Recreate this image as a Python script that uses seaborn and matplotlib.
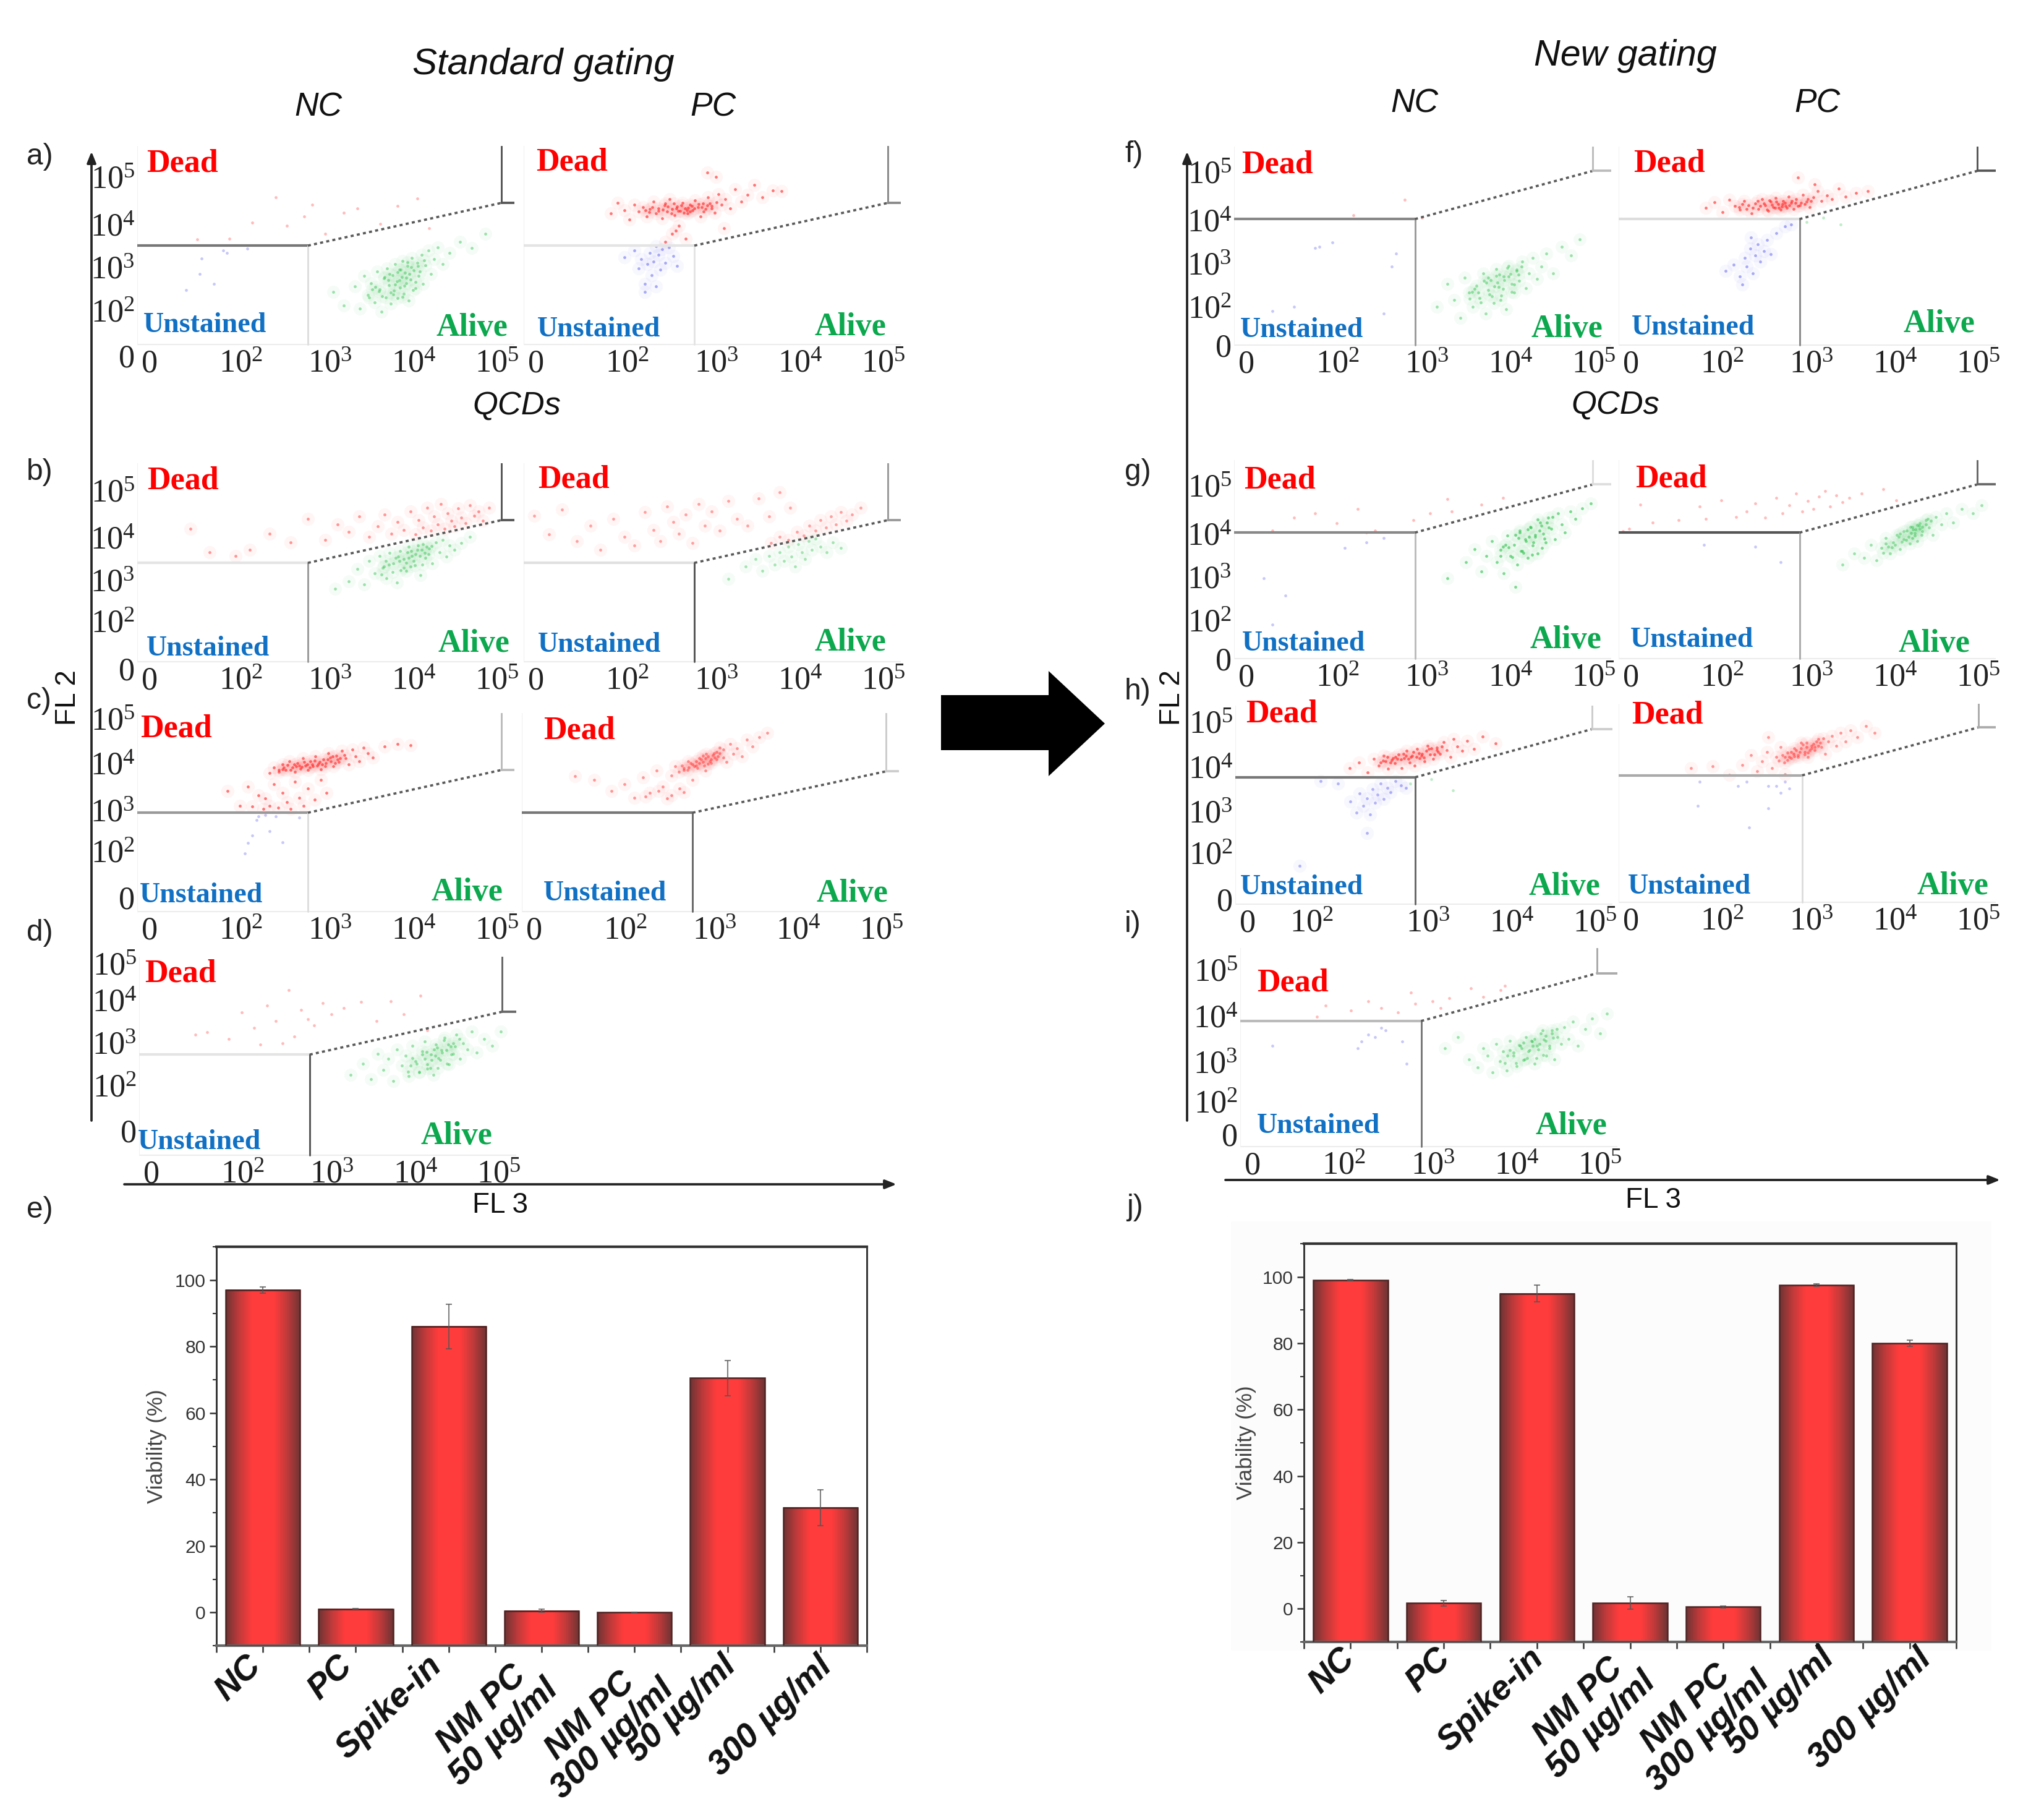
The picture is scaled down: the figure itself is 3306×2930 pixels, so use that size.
import numpy as np
import matplotlib
matplotlib.use('Agg')
import matplotlib.pyplot as plt
from matplotlib.colors import LinearSegmentedColormap
from matplotlib.patches import Polygon, Rectangle
from matplotlib.ticker import MultipleLocator, FixedLocator
from matplotlib.transforms import ScaledTranslation
import seaborn as sns

# -------------------------------
# Bar chart data
# -------------------------------
bar_labels = ['NC', 'PC', 'Spike-in', 'NM PC\n50 µg/ml', 'NM PC\n300 µg/ml', '50 µg/ml', '300 µg/ml']
std_viability = [97, 1, 86, 0.5, 0, 70.5, 31.5]
std_error = [1, 0.1, 6.7, 0.5, 0.1, 5.3, 5.4]
new_viability = [99, 1.7, 95, 1.7, 0.6, 97.5, 80]
new_error = [0.2, 0.8, 2.5, 1.9, 0.3, 0.4, 1]
viability_ticks = [0, 20, 40, 60, 80, 100]

# -------------------------------
# Cytometry points, FL3 (x) and FL2 (y) in log10 units
# -------------------------------
a_nc_green_x = [3.42,3.55,3.61,3.66,3.70,3.74,3.78,3.81,3.84,3.86,3.89,3.91,3.93,3.95,3.97,3.99,4.01,4.02,4.04,4.05,4.07,4.08,4.10,4.11,4.12,4.14,4.15,4.17,4.18,4.20,4.22,4.24,4.26,4.28,4.30,4.33,4.35,4.38,4.41,4.44,4.48,4.52,4.58,4.66,4.78,4.92,5.08,3.30,
                3.83,4.21,3.97,4.05,3.72,4.31,4.13,3.9,4.26,4.0,4.17,3.79,4.36,3.94,4.09,4.23,3.87,4.02,4.29,4.15,3.96,4.11,3.75,4.19,4.07]
a_nc_green_y = [2.12,2.55,2.05,2.78,2.35,2.62,2.18,2.88,2.48,1.98,2.72,2.30,2.95,2.58,2.15,2.80,2.45,3.05,2.65,2.28,2.92,2.52,2.75,3.12,2.38,2.85,2.62,3.00,2.22,2.70,3.18,2.90,2.50,3.08,2.78,3.25,2.60,3.02,3.35,2.82,3.15,3.42,3.05,3.30,3.55,3.40,3.72,2.42,
                2.44,2.97,2.41,2.87,2.29,2.88,2.56,2.76,2.64,2.36,3.09,2.53,3.13,2.69,2.92,2.46,2.33,2.59,3.01,2.74,2.83,2.31,2.47,2.83,2.68]
a_nc_red_x = [1.70,2.08,2.35,2.62,2.75,2.96,3.05,3.20,3.42,3.58,3.85,4.05,4.28,4.42]
a_nc_red_y = [3.60,3.62,3.98,4.55,3.90,4.12,4.38,3.72,4.20,4.30,3.95,4.35,4.52,3.85]
a_nc_blue_x = [1.57,1.75,2.01,2.05,2.29,1.73,1.9]
a_nc_blue_y = [2.46,3.17,3.35,3.30,3.39,2.82,2.6]

a_pc_red_x = [2.02,2.10,2.18,2.24,2.30,2.35,2.40,2.44,2.48,2.52,2.55,2.58,2.62,2.65,2.68,2.71,2.74,2.77,2.80,2.83,2.86,2.89,2.92,2.95,2.98,3.01,3.04,3.07,3.10,3.13,3.16,3.20,3.24,3.28,3.32,3.36,3.42,3.48,3.55,3.62,3.70,3.80,3.92,4.02,2.66,2.74,2.82,2.90,2.78,3.35,3.15,3.25,
              2.63,2.97,2.51,3.11,2.76,2.88,3.2,2.43,2.69,3.05,2.81,2.93,3.26,2.58,2.73,3.0,3.15,2.85,2.47,3.09,2.79,2.91,2.66,3.18,2.95]
a_pc_red_y = [4.18,4.42,4.25,4.05,4.38,4.22,4.32,4.12,4.28,4.45,4.18,4.30,4.08,4.36,4.22,4.50,4.28,4.14,4.34,4.24,4.42,4.30,4.18,4.38,4.26,4.48,4.32,4.12,4.40,4.28,4.55,4.35,4.20,4.62,4.38,4.50,4.30,4.72,4.45,4.60,4.82,4.55,4.70,4.68,3.55,3.72,3.90,3.62,3.80,3.85,5.10,5.0,
              4.27,4.35,4.33,4.23,4.4,4.2,4.3,4.25,4.34,4.39,4.24,4.31,4.44,4.24,4.19,4.29,4.36,4.37,4.21,4.33,4.3,4.26,4.41,4.41,4.22]
a_pc_blue_x = [2.18,2.30,2.35,2.38,2.42,2.45,2.48,2.50,2.52,2.55,2.58,2.60,2.62,2.66,2.70,2.75,2.80,2.42,2.55]
a_pc_blue_y = [3.2,3.35,2.95,3.15,2.60,3.05,3.30,2.80,3.10,2.55,3.25,2.92,3.38,3.08,3.42,3.22,3.00,2.42,3.45]

b_nc_red_x = [1.62,1.85,2.15,2.32,2.55,2.80,3.0,3.2,3.35,3.48,3.6,3.72,3.82,3.9,3.98,4.05,4.12,4.2,4.26,4.3,4.35,4.4,4.44,4.48,4.52,4.56,4.6,4.64,4.68,4.72,4.76,4.8,4.85,4.9,4.95,5.0,5.05,5.12]
b_nc_red_y = [4.22,3.7,3.62,3.75,4.12,3.92,4.45,3.98,4.32,4.15,4.5,4.05,4.28,4.55,4.12,4.38,4.2,4.62,4.1,4.42,4.25,4.7,4.18,4.5,4.32,4.78,4.22,4.58,4.4,4.28,4.68,4.48,4.35,4.75,4.52,4.62,4.4,4.7]
b_nc_green_x = [3.32,3.48,3.58,3.66,3.72,3.78,3.84,3.88,3.92,3.96,4.0,4.04,4.08,4.12,4.15,4.18,4.22,4.25,4.28,4.32,4.35,4.38,4.42,4.46,4.5,4.54,4.58,4.62,4.66,4.72,4.8,4.9,
                3.95,4.33,4.09,4.17,3.86,4.41,4.24,4.03,4.37,4.12,4.29,3.91,4.45,4.06,4.21,4.34,3.99,4.15,4.39,4.26,4.07,4.2,3.89,4.31,4.18]
b_nc_green_y = [2.88,3.05,3.32,2.98,3.5,3.22,3.62,3.35,3.12,3.68,3.45,3.02,3.72,3.55,3.28,3.82,3.62,3.4,3.75,3.18,3.88,3.58,3.78,3.45,3.92,3.7,3.98,3.6,3.85,3.75,3.9,4.05,
                3.42,3.75,3.3,3.7,3.2,3.65,3.5,3.58,3.68,3.35,3.85,3.5,3.84,3.6,3.72,3.42,3.25,3.46,3.82,3.66,3.5,3.38,3.38,3.62,3.58]

b_pc_red_x = [1.12,1.3,1.45,1.62,1.78,1.9,2.05,2.18,2.3,2.42,2.52,2.6,2.68,2.75,2.82,2.9,2.98,3.05,3.12,3.2,3.3,3.4,3.5,3.62,3.75,3.88,4.0,4.12,3.9,4.0,4.1,4.2,4.28,4.35,4.42,4.48,4.54,4.6,4.66,4.72,4.78,4.85,4.95]
b_pc_red_y = [4.52,4.1,4.65,3.95,4.3,3.75,4.45,4.05,3.85,4.6,4.2,3.95,4.72,4.38,4.12,4.55,3.9,4.78,4.3,4.62,4.18,4.85,4.45,4.3,4.9,4.5,5.05,4.7,3.9,4.05,3.98,4.15,4.08,4.3,4.18,4.42,4.25,4.5,4.32,4.6,4.4,4.55,4.7]
b_pc_green_x = [3.4,3.6,3.72,3.8,3.88,3.94,4.0,4.05,4.1,4.14,4.18,4.22,4.26,4.3,4.34,4.38,4.42,4.48,4.55,4.62,4.72]
b_pc_green_y = [3.1,3.38,3.55,3.28,3.62,3.42,3.7,3.5,3.82,3.6,3.38,3.88,3.7,3.55,3.95,3.75,4.0,3.82,3.7,3.92,3.8]

c_nc_red_x = [2.55,2.6,2.66,2.7,2.74,2.78,2.82,2.85,2.88,2.91,2.94,2.97,3.0,3.03,3.06,3.09,3.12,3.15,3.18,3.21,3.24,3.27,3.3,3.33,3.36,3.4,3.44,3.48,3.52,3.56,3.6,3.65,3.7,3.76,3.9,4.05,4.2,2.06,2.2,2.3,2.35,2.42,2.48,2.5,2.55,2.6,2.65,2.7,2.75,2.8,2.85,2.9,2.95,3.0,3.08,3.15,3.22,
              2.72,3.14,2.9,3.38,2.8,3.02,3.26,2.96,3.2,2.66,3.08,3.32,2.86,3.11,3.43,2.76,3.17,2.99,3.23,2.93,3.05,2.84,3.29,3.35,2.7]
c_nc_red_y = [4.35,4.48,4.38,4.55,4.42,4.62,4.48,4.38,4.58,4.45,4.68,4.52,4.42,4.62,4.5,4.72,4.56,4.44,4.66,4.58,4.8,4.62,4.5,4.74,4.6,4.85,4.68,4.55,4.88,4.72,4.62,4.92,4.8,4.7,4.95,5.0,4.98,3.95,3.62,4.05,3.6,3.85,3.55,3.78,3.62,4.1,3.58,3.9,3.7,3.55,4.15,3.8,3.62,4.0,3.75,4.2,3.9,
              4.47,4.6,4.52,4.68,4.42,4.47,4.7,4.6,4.51,4.42,4.63,4.58,4.51,4.52,4.76,4.53,4.55,4.55,4.66,4.49,4.55,4.55,4.72,4.65,4.44]
c_nc_blue_x = [2.26,2.35,2.42,2.5,2.55,2.62,2.7,2.3,2.4,2.9]
c_nc_blue_y = [2.55,2.95,3.38,3.4,3.05,3.38,2.8,2.78,3.3,3.35]

c_pc_red_x = [1.62,1.85,2.05,2.2,2.32,2.42,2.5,2.58,2.65,2.7,2.75,2.8,2.85,2.9,2.95,3.0,3.04,3.08,3.12,3.15,3.18,3.22,3.25,3.28,3.32,3.36,3.4,3.44,3.48,3.52,3.58,3.64,3.7,3.78,3.88,2.45,2.6,2.75,2.9,
              2.9,3.15,3.0,3.24,2.84,3.08,3.28,2.96,3.2,2.88,3.12,3.32,3.04,3.18,3.36,2.98,3.22,3.06,3.26,3.14,2.94,3.1,3.3,3.02,3.16]
c_pc_red_y = [4.28,4.2,3.95,4.1,3.8,4.25,3.9,4.4,4.05,3.78,4.3,4.5,4.0,4.42,4.62,4.2,4.52,4.68,4.6,4.4,4.72,4.58,4.8,4.65,4.92,4.7,4.6,5.0,4.78,4.9,4.72,5.1,4.95,5.15,5.25,3.82,3.95,3.85,3.92,
              4.46,4.68,4.55,4.76,4.38,4.58,4.82,4.48,4.62,4.52,4.74,4.8,4.62,4.56,4.88,4.58,4.66,4.46,4.7,4.52,4.42,4.66,4.72,4.5,4.78]

d_nc_green_x = [3.48,3.62,3.72,3.8,3.86,3.92,3.98,4.02,4.08,4.12,4.16,4.2,4.24,4.28,4.32,4.35,4.38,4.42,4.45,4.48,4.51,4.54,4.58,4.61,4.65,4.68,4.72,4.76,4.8,4.85,4.9,4.96,5.04,5.14,5.24,
                4.25,4.62,4.38,4.46,4.15,4.7,4.53,4.32,4.66,4.41,4.57,4.2,4.75,4.35,4.49,4.63,4.28,4.43,4.68,4.55,4.37,4.5,4.18,4.6,4.47]
d_nc_green_y = [3.05,3.3,2.95,3.52,3.15,3.4,2.9,3.62,3.25,3.48,3.02,3.7,3.35,3.12,3.58,3.8,3.28,3.5,3.05,3.72,3.42,3.6,3.88,3.3,3.68,3.52,3.95,3.4,3.75,3.62,4.02,3.55,3.85,3.7,4.02,
                3.3,3.72,3.18,3.62,3.12,3.68,3.38,3.5,3.5,3.2,3.82,3.42,3.85,3.4,3.66,3.28,3.1,3.38,3.76,3.55,3.56,3.2,3.26,3.6,3.48]
d_nc_red_x = [1.66,1.8,2.05,2.2,2.35,2.42,2.5,2.6,2.68,2.75,2.82,2.9,2.98,3.05,3.15,3.25,3.4,3.6,3.78,3.95,4.1,4.3,4.38]
d_nc_red_y = [3.95,4.0,3.85,4.45,4.1,3.72,4.6,4.25,3.75,4.95,3.9,4.5,4.3,4.15,4.65,4.4,4.55,4.68,4.25,4.7,4.4,4.82,4.05]

f_nc_green_x = [3.38,3.5,3.58,3.65,3.7,3.75,3.8,3.84,3.88,3.92,3.95,3.98,4.01,4.04,4.07,4.1,4.13,4.16,4.19,4.22,4.25,4.28,4.31,4.34,4.38,4.42,4.46,4.5,4.55,4.6,4.66,4.74,4.84,4.95,5.05,
                3.86,4.24,3.99,4.07,3.76,4.33,4.15,3.93,4.28,4.02,4.2,3.82,4.37,3.96,4.11,4.25,3.89,4.05,4.31,4.17,3.98,4.12,3.79,4.22,4.09]
f_nc_green_y = [2.1,2.62,2.25,1.85,2.75,2.42,2.1,2.58,2.3,2.85,1.95,2.48,2.7,2.18,2.95,2.55,2.35,2.78,2.05,3.02,2.62,2.42,2.9,2.68,3.12,2.52,2.85,3.2,2.72,3.0,3.3,2.85,3.45,3.25,3.62,
                2.42,2.84,2.38,2.8,2.28,2.82,2.5,2.68,2.6,2.34,2.98,2.5,3.0,2.64,2.82,2.44,2.2,2.56,2.94,2.7,2.76,2.26,2.44,2.78,2.64]
f_nc_red_x = [2.4,3.0,3.2]
f_nc_red_y = [4.15,4.5,4.1]
f_nc_blue_x = [1.95,2.0,2.15,2.85,2.9,1.45,1.7,2.75]
f_nc_blue_y = [3.42,3.45,3.55,3.0,3.3,2.0,2.1,1.95]

f_pc_red_x = [2.02,2.12,2.22,2.3,2.36,2.42,2.47,2.52,2.56,2.6,2.64,2.68,2.72,2.75,2.78,2.81,2.84,2.87,2.9,2.93,2.96,2.99,3.02,3.05,3.08,3.12,3.16,3.2,3.24,3.28,3.33,3.38,3.44,3.5,3.58,3.66,3.78,3.92,3.1,3.3,
              2.66,2.95,2.5,3.1,2.77,2.88,3.18,2.41,2.7,3.03,2.83,2.92,3.25,2.57,2.74,3.0,3.14,2.85,2.45,3.07,2.8,2.91,2.63,3.22,2.97]
f_pc_red_y = [4.32,4.45,4.22,4.5,4.36,4.28,4.48,4.38,4.2,4.42,4.3,4.52,4.38,4.25,4.46,4.34,4.55,4.4,4.28,4.48,4.36,4.58,4.44,4.3,4.52,4.38,4.62,4.46,4.34,4.56,4.7,4.48,4.6,4.52,4.75,4.58,4.65,4.7,5.0,4.85,
              4.36,4.44,4.3,4.36,4.49,4.32,4.4,4.34,4.42,4.48,4.33,4.4,4.47,4.33,4.28,4.38,4.44,4.46,4.4,4.43,4.39,4.35,4.47,4.52,4.32]
f_pc_blue_x = [2.25,2.35,2.42,2.48,2.5,2.54,2.57,2.6,2.63,2.66,2.7,2.74,2.78,2.85,2.95,3.02,2.45,2.55]
f_pc_blue_y = [2.9,3.05,2.78,3.2,3.0,3.4,2.85,3.25,3.5,3.12,3.35,3.6,3.28,3.75,3.9,3.95,2.6,3.65]
f_pc_green_x = [3.2,3.4,3.6]
f_pc_green_y = [4.0,4.1,3.95]

g_nc_green_x = [3.72,3.82,3.9,3.96,4.02,4.08,4.12,4.16,4.2,4.24,4.28,4.32,4.35,4.38,4.41,4.44,4.47,4.5,4.53,4.56,4.59,4.62,4.65,4.68,4.72,4.76,4.8,4.84,4.88,4.94,5.0,5.08,5.18,3.5,4.3,
                4.22,4.6,4.36,4.44,4.12,4.69,4.51,4.3,4.64,4.39,4.56,4.18,4.73,4.33,4.48,4.61,4.26,4.42,4.67,4.53,4.35,4.49,4.15,4.58,4.46]
g_nc_green_y = [3.4,3.7,3.2,3.55,3.88,3.4,3.68,3.15,4.0,3.55,3.8,3.35,4.12,3.65,3.92,3.5,4.2,3.78,3.98,3.6,4.3,4.05,3.85,4.4,4.15,3.92,4.5,4.25,4.08,4.55,4.38,4.62,4.72,3.05,2.85,
                3.74,4.22,3.66,4.14,3.55,4.18,3.85,4.02,3.94,3.62,4.36,3.8,4.42,3.95,4.18,3.72,3.52,3.88,4.3,4.02,4.08,3.58,3.75,4.12,3.98]
g_nc_red_x = [1.45,1.7,1.95,2.2,2.55,2.65,3.1,3.3,3.5,3.55,3.9,4.15,2.45]
g_nc_red_y = [4.12,4.4,4.5,4.28,4.08,4.12,4.35,4.5,4.82,4.55,4.7,4.85,4.6]
g_nc_blue_x = [1.35,2.3,2.55,2.75,1.6,1.45]
g_nc_blue_y = [3.05,3.72,3.85,3.95,2.65,2.0]

g_pc_green_x = [3.62,3.76,3.88,3.96,4.02,4.08,4.13,4.18,4.22,4.26,4.3,4.34,4.38,4.41,4.44,4.47,4.5,4.53,4.56,4.6,4.64,4.68,4.72,4.78,4.84,4.92,5.02,5.15,5.25,
                4.2,4.52,4.32,4.42,4.1,4.6,4.47,4.28,4.56,4.37,4.5,4.16,4.66,4.3,4.45,4.55,4.24,4.4,4.62,4.48,4.34,4.44,4.13,4.53,4.43]
g_pc_green_y = [3.35,3.6,3.5,3.8,3.45,3.72,3.95,3.6,3.85,4.02,3.7,3.92,4.12,3.82,4.2,4.0,3.88,4.28,4.1,4.35,4.18,4.02,4.42,4.25,4.5,4.3,4.6,4.5,4.68,
                3.74,4.22,3.86,4.2,3.62,4.26,4.06,3.98,4.2,3.9,4.24,3.76,4.34,4.05,4.14,4.02,3.8,3.98,4.38,4.14,4.1,3.95,3.82,4.16,4.06]
g_pc_red_x = [1.05,1.25,1.4,1.7,1.95,2.02,2.2,2.38,2.5,2.6,2.72,2.85,2.92,3.0,3.08,3.15,3.22,3.28,3.35,3.42,3.48,3.55,3.62,3.7,3.85,4.1,4.25,1.12]
g_pc_red_y = [4.1,4.7,4.3,4.35,4.65,4.38,4.8,4.42,4.55,4.72,4.4,4.85,4.5,4.68,4.95,4.55,4.78,4.6,4.88,5.0,4.65,4.9,4.75,4.85,4.95,5.05,4.8,4.15]
g_pc_blue_x = [2.0,2.6,2.9]
g_pc_blue_y = [3.8,3.75,3.4]

h_nc_red_x = [2.34,2.45,2.55,2.62,2.68,2.74,2.79,2.83,2.87,2.91,2.95,2.98,3.01,3.04,3.07,3.1,3.13,3.16,3.19,3.22,3.25,3.28,3.32,3.36,3.4,3.44,3.48,3.52,3.56,3.6,3.66,3.72,3.8,3.9,4.05,
              2.76,3.15,2.9,3.36,2.82,3.03,3.27,2.97,3.21,2.7,3.09,3.33,2.88,3.12,3.42,2.78,3.18,3.0,3.24,2.94,3.06,2.85,3.3,3.38,2.73]
h_nc_red_y = [4.3,4.42,4.2,4.5,4.35,4.58,4.28,4.48,4.4,4.6,4.3,4.52,4.68,4.42,4.58,4.35,4.72,4.52,4.62,4.45,4.8,4.6,4.5,4.75,4.62,4.88,4.7,4.55,4.95,4.78,4.68,4.9,4.72,5.0,4.85,
              4.45,4.63,4.5,4.7,4.42,4.5,4.72,4.62,4.53,4.42,4.66,4.6,4.55,4.54,4.78,4.55,4.58,4.58,4.68,4.49,4.55,4.52,4.74,4.66,4.46]
h_nc_blue_x = [2.0,2.2,2.35,2.42,2.46,2.5,2.54,2.58,2.61,2.64,2.67,2.7,2.74,2.78,2.82,2.88,2.94,3.0,2.54,1.75]
h_nc_blue_y = [4.0,3.95,3.55,3.3,3.72,3.45,3.62,3.25,3.82,3.52,3.7,3.95,3.6,3.85,3.75,4.0,3.9,3.85,2.84,2.1]
h_nc_green_x = [3.05,3.3,3.55]
h_nc_green_y = [3.95,4.05,3.8]

h_pc_red_x = [1.85,2.1,2.3,2.45,2.55,2.62,2.68,2.74,2.8,2.85,2.9,2.94,2.98,3.02,3.06,3.1,3.14,3.18,3.22,3.26,3.3,3.34,3.38,3.42,3.46,3.5,3.55,3.6,3.66,3.72,3.8,3.9,4.0,2.75,2.95,
              2.95,3.2,3.05,3.28,2.88,3.12,3.32,3.0,3.24,2.92,3.16,3.36,3.08,3.22,3.4,3.02,3.26,3.1,3.3,3.18,2.98,3.14,3.34,3.06,3.2]
h_pc_red_y = [4.25,4.3,4.1,4.32,4.55,4.18,4.4,4.62,4.25,4.5,4.72,4.38,4.6,4.48,4.7,4.55,4.82,4.62,4.5,4.75,4.65,4.9,4.72,4.58,4.85,4.98,4.75,5.05,4.85,5.1,4.95,5.2,5.05,4.95,4.12,
              4.5,4.72,4.58,4.8,4.42,4.62,4.85,4.5,4.66,4.55,4.78,4.82,4.65,4.6,4.92,4.62,4.7,4.5,4.72,4.56,4.44,4.7,4.75,4.52,4.82]
h_pc_blue_x = [1.93,1.95,2.4,2.5,2.75,2.9,2.95,3.0,2.53,2.75,2.85]
h_pc_blue_y = [3.4,3.95,3.85,3.95,3.85,3.7,3.95,3.8,2.92,3.35,3.85]

i_nc_green_x = [3.4,3.55,3.68,3.78,3.85,3.9,3.96,4.0,4.04,4.08,4.12,4.16,4.2,4.24,4.28,4.32,4.35,4.38,4.42,4.45,4.48,4.52,4.55,4.58,4.62,4.65,4.68,4.72,4.76,4.8,4.85,4.9,4.96,5.04,5.12,5.22,5.3,
                4.2,4.58,4.33,4.41,4.1,4.67,4.49,4.27,4.62,4.36,4.54,4.16,4.71,4.3,4.45,4.59,4.23,4.39,4.65,4.51,4.32,4.47,4.13,4.56,4.43]
i_nc_green_y = [3.45,3.7,3.2,3.02,3.45,3.28,2.9,3.55,3.15,3.38,2.95,3.62,3.28,3.05,3.5,3.18,3.7,3.38,3.6,3.1,3.5,3.78,3.3,3.62,3.45,3.85,3.2,3.7,3.55,3.92,3.65,4.05,3.5,3.88,4.12,3.78,4.22,
                3.35,3.72,3.2,3.62,3.12,3.68,3.42,3.52,3.5,3.22,3.85,3.4,3.88,3.45,3.66,3.28,3.12,3.4,3.78,3.55,3.58,3.22,3.28,3.64,3.5]
i_nc_red_x = [1.9,2.0,2.3,2.5,2.65,2.85,3.0,3.05,3.25,3.35,3.45,3.7,3.85,4.05,4.1]
i_nc_red_y = [4.15,4.4,4.3,4.5,4.35,4.25,4.7,4.45,4.5,4.35,4.58,4.8,4.6,4.75,4.85]
i_nc_blue_x = [1.38,2.38,2.42,2.58,2.65,2.7,2.9,2.95,2.5]
i_nc_blue_y = [3.5,3.45,3.6,3.7,3.9,3.85,3.6,3.1,3.75]

# tick places for the log axes
x_tick_labels = ['0', r'$\mathregular{10^{2}}$', r'$\mathregular{10^{3}}$', r'$\mathregular{10^{4}}$', r'$\mathregular{10^{5}}$']
y_tick_labels = [r'$\mathregular{10^{5}}$', r'$\mathregular{10^{4}}$', r'$\mathregular{10^{3}}$', r'$\mathregular{10^{2}}$', '0']
x_ticks = [1.05, 1.96, 3.0, 3.98, 4.96]
x_ticks_h = [1.05, 1.64, 3.0, 3.98, 4.96]
y_ticks_a = [5.0, 3.93, 2.98, 2.0, 0.99]
y_ticks_b = [5.09, 4.03, 3.07, 2.16, 1.09]
y_ticks_c = [5.57, 4.57, 3.52, 2.6, 1.56]
y_ticks_d = [5.55, 4.73, 3.77, 2.81, 1.8]
y_ticks_f = [5.13, 4.05, 3.07, 2.1, 1.24]
y_ticks_h = [5.34, 4.32, 3.32, 2.39, 1.35]
y_ticks_i = [5.21, 4.17, 3.14, 2.25, 1.52]

# -------------------------------
# Figure setup
# -------------------------------
sns.set_theme(style='white')
plt.rcParams['font.family'] = ['Liberation Sans', 'DejaVu Sans']
plt.rcParams['mathtext.fontset'] = 'custom'
plt.rcParams['mathtext.rm'] = 'Liberation Serif'

W, H = 3306, 2930
fig = plt.figure(figsize=(W / 300, H / 300), dpi=300, facecolor='white')

RED, GREEN, BLUE = '#ff2020', '#2cc24a', '#4848ee'
SERIF = 'Liberation Serif'
px_per_x, px_per_y = 138, 72
x_lo, x_hi, y_lo, y_hi, y_base = 1.0, 5.42, 0.9, 5.7, 1.24


def flow_panel(left, bottom, clouds, gate, dash_end, y_ticks, gate_cols, xt=x_ticks):
    # axes in px, stretched under the box so the low "0" tick label still fits
    w = (x_hi - x_lo) * px_per_x
    h = (y_hi - y_lo) * px_per_y
    ax_bottom = bottom + (y_base - y_lo) * px_per_y
    ax = fig.add_axes([left / W, 1 - ax_bottom / H, w / W, h / H])
    ax.patch.set_visible(False)

    for cx, cy, col, alpha in clouds:
        # the dots in the reference merge into a haze, so each one gets a faint wide halo first
        if alpha >= SOFT:
            sns.scatterplot(x=cx, y=cy, ax=ax, color=col, s=26, marker='o', linewidth=0, alpha=0.045, legend=False)
        sns.scatterplot(x=cx, y=cy, ax=ax, color=col, s=1.3, marker='o', linewidth=0, alpha=alpha, legend=False)

    hc, vc, lc = gate_cols
    ax.plot([x_lo, x_hi], [y_base, y_base], color='#ececec', lw=0.5)
    ax.plot([x_lo, x_lo], [y_base, y_hi], color='#f0f0f0', lw=0.5)
    ax.plot([x_lo, gate[0]], [gate[1], gate[1]], color=hc, lw=1.0, solid_capstyle='butt')
    ax.plot([gate[0], gate[0]], [y_base, gate[1]], color=vc, lw=0.7)
    ax.plot([gate[0], dash_end[0]], [gate[1], dash_end[1]], color='#5a5a5a', lw=0.9, ls=(0, (1.3, 1.4)))
    ax.plot([dash_end[0], dash_end[0]], [dash_end[1], y_hi], color=lc, lw=0.7)
    ax.plot([dash_end[0], x_hi], [dash_end[1], dash_end[1]], color=lc, lw=0.9)

    ax.set_xlim(x_lo, x_hi)
    ax.set_ylim(y_lo, y_hi)
    ax.set_xlabel('')
    ax.set_ylabel('')
    sns.despine(ax=ax, left=True, bottom=True)
    ax.set_xticks(xt)
    ax.set_xticklabels(x_tick_labels, family=SERIF, fontsize=12.5, color='#222222', ha='left')
    ax.tick_params(axis='x', length=0, pad=-4.0)
    if y_ticks is None:
        ax.set_yticks([])
    else:
        ax.set_yticks(y_ticks)
        ax.set_yticklabels(y_tick_labels, family=SERIF, fontsize=12.5, color='#222222')
        ax.tick_params(axis='y', length=0, pad=1)
    return ax


left_gate = (3.0, 3.46)
left_end = (5.27, 4.42)
right_gate = (3.12, 4.07)
right_end = (5.2, 5.15)
PALE, SOFT, MID, DENSE = 0.3, 0.4, 0.45, 0.6

flow_panel(222, 557, [(a_nc_red_x, a_nc_red_y, RED, PALE), (a_nc_blue_x, a_nc_blue_y, BLUE, PALE), (a_nc_green_x, a_nc_green_y, GREEN, MID)],
           left_gate, left_end, y_ticks_a, ('#777777', '#dddddd', '#555555'))
flow_panel(847, 557, [(a_pc_red_x, a_pc_red_y, RED, DENSE), (a_pc_blue_x, a_pc_blue_y, BLUE, MID)],
           left_gate, left_end, None, ('#e4e4e4', '#e4e4e4', '#888888'))
flow_panel(222, 1070, [(b_nc_red_x, b_nc_red_y, RED, MID), (b_nc_green_x, b_nc_green_y, GREEN, MID)],
           left_gate, left_end, y_ticks_b, ('#e4e4e4', '#999999', '#555555'))
flow_panel(847, 1070, [(b_pc_red_x, b_pc_red_y, RED, SOFT), (b_pc_green_x, b_pc_green_y, GREEN, SOFT)],
           left_gate, left_end, None, ('#e0e0e0', '#555555', '#999999'))
flow_panel(222, 1474, [(c_nc_red_x, c_nc_red_y, RED, DENSE), (c_nc_blue_x, c_nc_blue_y, BLUE, PALE)],
           left_gate, left_end, y_ticks_c, ('#999999', '#dddddd', '#bbbbbb'))
flow_panel(844, 1474, [(c_pc_red_x, c_pc_red_y, RED, MID)],
           left_gate, (5.27, 4.39), None, ('#777777', '#666666', '#cccccc'))
flow_panel(225, 1868, [(d_nc_red_x, d_nc_red_y, RED, PALE), (d_nc_green_x, d_nc_green_y, GREEN, MID)],
           (3.0, 3.5), (5.25, 4.46), y_ticks_d, ('#e4e4e4', '#555555', '#666666'))

flow_panel(1996, 558, [(f_nc_red_x, f_nc_red_y, RED, PALE), (f_nc_blue_x, f_nc_blue_y, BLUE, PALE), (f_nc_green_x, f_nc_green_y, GREEN, MID)],
           right_gate, right_end, y_ticks_f, ('#888888', '#999999', '#bbbbbb'))
flow_panel(2618, 558, [(f_pc_red_x, f_pc_red_y, RED, DENSE), (f_pc_blue_x, f_pc_blue_y, BLUE, MID), (f_pc_green_x, f_pc_green_y, GREEN, PALE)],
           right_gate, right_end, None, ('#dddddd', '#888888', '#555555'))
flow_panel(1996, 1065, [(g_nc_red_x, g_nc_red_y, RED, PALE), (g_nc_blue_x, g_nc_blue_y, BLUE, PALE), (g_nc_green_x, g_nc_green_y, GREEN, DENSE)],
           right_gate, right_end, y_ticks_f, ('#888888', '#bbbbbb', '#dddddd'))
flow_panel(2618, 1065, [(g_pc_red_x, g_pc_red_y, RED, PALE), (g_pc_blue_x, g_pc_blue_y, BLUE, PALE), (g_pc_green_x, g_pc_green_y, GREEN, MID)],
           right_gate, right_end, None, ('#555555', '#aaaaaa', '#666666'))
flow_panel(1998, 1462, [(h_nc_red_x, h_nc_red_y, RED, DENSE), (h_nc_blue_x, h_nc_blue_y, BLUE, SOFT), (h_nc_green_x, h_nc_green_y, GREEN, PALE)],
           (3.11, 4.09), (5.18, 5.17), y_ticks_h, ('#777777', '#666666', '#cccccc'), xt=x_ticks_h)
flow_panel(2618, 1459, [(h_pc_red_x, h_pc_red_y, RED, MID), (h_pc_blue_x, h_pc_blue_y, BLUE, PALE)],
           (3.15, 4.09), (5.22, 5.17), None, ('#aaaaaa', '#dddddd', '#aaaaaa'))
flow_panel(2006, 1854, [(i_nc_red_x, i_nc_red_y, RED, PALE), (i_nc_blue_x, i_nc_blue_y, BLUE, PALE), (i_nc_green_x, i_nc_green_y, GREEN, MID)],
           (3.12, 4.06), (5.18, 5.13), y_ticks_i, ('#bbbbbb', '#777777', '#aaaaaa'))

# -------------------------------
# Bar panels with the shaded columns
# -------------------------------
shade = LinearSegmentedColormap.from_list('shade', ['#703434', '#c03a3a', '#ff3c3c'])
shade_row = np.abs(np.linspace(-1, 1, 101))
shade_row = np.clip(1 - shade_row, 0, 0.7)[None, :] / 0.7

# x shift of each rotated tick label, px
std_label_shift = [-29, -31, -37, -35, 2, -12, -7]
new_label_shift = [-19, -15, -15, -21, 13, 3, 9]


def bar_panel(x0, y0, x1, y1, values, errors, ylab_x, label_shift, label_lift):
    ax = fig.add_axes([x0 / W, 1 - y1 / H, (x1 - x0) / W, (y1 - y0) / H])
    ax.patch.set_visible(False)
    sns.barplot(x=bar_labels, y=values, ax=ax, width=0.8, color='#ff3c3c', saturation=1, errorbar=None)
    for bar, v in zip(ax.patches, values):
        bar.set_y(-10)
        bar.set_height(v + 10)
        bar.set_facecolor('none')
        bar.set_edgecolor('#4e2222')
        bar.set_linewidth(0.6)
        bar.set_zorder(3)
        ax.imshow(shade_row, extent=[bar.get_x(), bar.get_x() + bar.get_width(), -10, v],
                  aspect='auto', cmap=shade, vmin=0, vmax=1, zorder=2)
    ax.errorbar(range(len(values)), values, yerr=errors, fmt='none', ecolor='#555555', elinewidth=0.5,
                capsize=1.3, capthick=0.5, alpha=0.75, zorder=4)
    ax.set_xlim(-0.5, 6.5)
    ax.set_ylim(-10, 110)
    ax.set_yticks(viability_ticks)
    ax.yaxis.set_minor_locator(MultipleLocator(10))
    ax.xaxis.set_minor_locator(FixedLocator(np.arange(-0.5, 7, 1)))
    ax.tick_params(axis='y', which='major', left=True, length=2.6, width=0.6, color='#333333', labelsize=7.2, labelcolor='#333333', pad=1.5)
    ax.tick_params(axis='y', which='minor', left=True, length=1.5, width=0.5, color='#333333')
    ax.tick_params(axis='x', which='both', bottom=True, length=2.6, width=0.6, color='#333333')
    for spine in ax.spines.values():
        spine.set_color('#333333')
        spine.set_linewidth(0.7)
    ax.spines['top'].set_linewidth(1.0)
    ax.spines['bottom'].set_color('#666666')
    ax.spines['bottom'].set_linewidth(1.0)
    ax.set_xlabel('')
    ax.set_ylabel('Viability (%)', fontsize=8.4, color='#444444')
    ax.yaxis.set_label_coords((ylab_x - x0) / (x1 - x0), 0.5)
    for lab, dx in zip(ax.get_xticklabels(), label_shift):
        lab.set(rotation=44, ha='right', va='top', rotation_mode='anchor', fontsize=13.3,
                fontweight='bold', style='italic', color='#111111', linespacing=1.0, multialignment='center')
        lab.set_transform(lab.get_transform() + ScaledTranslation(dx / 300, label_lift / 300, fig.dpi_scale_trans))


bar_panel(350, 2016, 1402, 2661, std_viability, std_error, 270, std_label_shift, 18)
bar_panel(2109, 2011, 3164, 2655, new_viability, new_error, 2032, new_label_shift, 24)

# -------------------------------
# Overlay in pixel coordinates: headings, gate names, arrows
# -------------------------------
bg = fig.add_axes([0, 0, 1, 1], zorder=10)
bg.set_xlim(0, W)
bg.set_ylim(H, 0)
bg.axis('off')

under = fig.add_axes([0, 0, 1, 1], zorder=-1)
under.set_xlim(0, W)
under.set_ylim(H, 0)
under.axis('off')
under.add_patch(Rectangle((1991, 1975), 1230, 694, facecolor='#fcfcfc', edgecolor='none'))

for txt, x, y, fs in [('Standard gating', 879, 105, 14.4), ('NC', 515, 173, 12.8), ('PC', 1153, 173, 12.8), ('QCDs', 836, 656, 12.6),
                      ('New gating', 2629, 90, 14.2), ('NC', 2288, 168, 12.8), ('PC', 2939, 168, 12.8), ('QCDs', 2613, 655, 12.6)]:
    bg.text(x, y, txt, style='italic', fontsize=fs, ha='center', va='center', color='#111111')

for txt, x, y in [('a)', 43, 253), ('b)', 43, 764), ('c)', 43, 1133), ('d)', 43, 1508), ('e)', 43, 1956),
                  ('f)', 1819, 249), ('g)', 1819, 763), ('h)', 1819, 1118), ('i)', 1819, 1494), ('j)', 1822, 1952)]:
    bg.text(x, y, txt, fontsize=11.5, ha='left', va='center', color='#222222')

bg.text(110, 1128, 'FL 2', rotation=90, fontsize=11, ha='center', va='center', color='#111111')
bg.text(1896, 1128, 'FL 2', rotation=90, fontsize=11, ha='center', va='center', color='#111111')
bg.text(809, 1949, 'FL 3', fontsize=11, ha='center', va='center', color='#111111')
bg.text(2674, 1941, 'FL 3', fontsize=11, ha='center', va='center', color='#111111')

dead_pos = [(237, 264), (867, 262), (238, 777), (870, 775), (227, 1178), (879, 1181), (234, 1574),
            (2008, 267), (2642, 265), (2012, 776), (2645, 774), (2015, 1154), (2639, 1156), (2033, 1589)]
unstained_pos = [(232, 526), (869, 533), (237, 1049), (870, 1043), (226, 1448), (879, 1445), (223, 1847),
                 (2006, 534), (2639, 530), (2009, 1041), (2637, 1035), (2006, 1435), (2633, 1434), (2033, 1821)]
alive_pos = [(821, 530), (1433, 529), (824, 1041), (1433, 1039), (813, 1443), (1436, 1445), (796, 1837),
             (2592, 532), (3194, 524), (2590, 1035), (3186, 1041), (2588, 1434), (3216, 1433), (2599, 1821)]
for x, y in dead_pos:
    bg.text(x, y, 'Dead', family=SERIF, fontweight='bold', fontsize=12.5, color='#ff0000', ha='left', va='center')
for x, y in unstained_pos:
    bg.text(x, y, 'Unstained', family=SERIF, fontweight='bold', fontsize=11, color='#1070c4', ha='left', va='center')
for x, y in alive_pos:
    bg.text(x, y, 'Alive', family=SERIF, fontweight='bold', fontsize=12.5, color='#0ca84e', ha='right', va='center')

# axis arrows
arrow_style = dict(arrowstyle='-|>,head_width=0.12,head_length=0.3', color='#222222', lw=0.9, shrinkA=0, shrinkB=0)
bg.annotate('', xy=(148, 245), xytext=(148, 1812), arrowprops=arrow_style)
bg.annotate('', xy=(1450, 1915), xytext=(201, 1915), arrowprops=arrow_style)
bg.annotate('', xy=(1920, 245), xytext=(1920, 1812), arrowprops=arrow_style)
bg.annotate('', xy=(3235, 1908), xytext=(1982, 1908), arrowprops=arrow_style)

# big arrow between the two columns
bg.add_patch(Polygon([(1522, 1124), (1696, 1124), (1696, 1085), (1787, 1170), (1696, 1255), (1696, 1213), (1522, 1213)],
                     closed=True, facecolor='black', edgecolor='none'))

fig.savefig('out.png', dpi=300)
